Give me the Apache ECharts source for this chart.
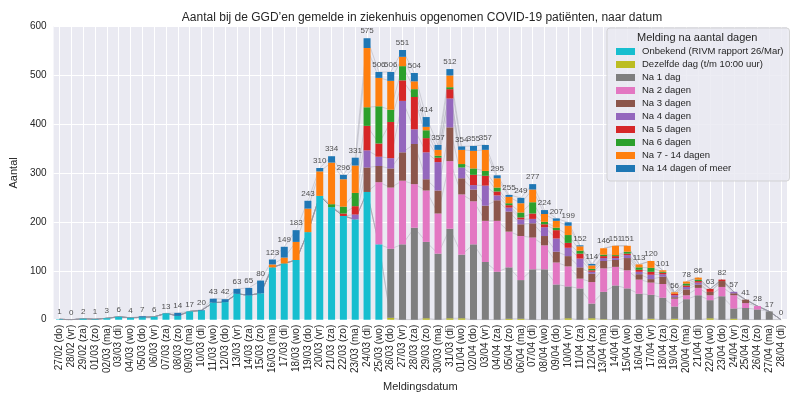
<!DOCTYPE html>
<html>
<head>
<meta charset="utf-8">
<script src="https://cdn.jsdelivr.net/npm/echarts@6/dist/echarts.min.js"></script>
<style>
html,body{margin:0;padding:0;background:#fff;}
#c{width:800px;height:397px;}
</style>
</head>
<body>
<div id="c"></div>
<script>
var categories = ["27/02 (do)","28/02 (vr)","29/02 (za)","01/03 (zo)","02/03 (ma)","03/03 (di)","04/03 (wo)","05/03 (do)","06/03 (vr)","07/03 (za)",
"08/03 (zo)","09/03 (ma)","10/03 (di)","11/03 (wo)","12/03 (do)","13/03 (vr)","14/03 (za)","15/03 (zo)","16/03 (ma)","17/03 (di)",
"18/03 (wo)","19/03 (do)","20/03 (vr)","21/03 (za)","22/03 (zo)","23/03 (ma)","24/03 (di)","25/03 (wo)","26/03 (do)","27/03 (vr)",
"28/03 (za)","29/03 (zo)","30/03 (ma)","31/03 (di)","01/04 (wo)","02/04 (do)","03/04 (vr)","04/04 (za)","05/04 (zo)","06/04 (ma)",
"07/04 (di)","08/04 (wo)","09/04 (do)","10/04 (vr)","11/04 (za)","12/04 (zo)","13/04 (ma)","14/04 (di)","15/04 (wo)","16/04 (do)",
"17/04 (vr)","18/04 (za)","19/04 (zo)","20/04 (ma)","21/04 (di)","22/04 (wo)","23/04 (do)","24/04 (vr)","25/04 (za)","26/04 (zo)",
"27/04 (ma)","28/04 (di)"];

var onbekend = [1,0,2,1,3,6,4,5,6,13, 8,17,19,35,36,53,50,54,107,115, 122,179,253,230,212,205,261,154,0,0, 0,0,0,0,0,0,0,0,0,0, 0,0,0,0,0,0,0,0,0,0, 0,0,0,0,0,0,0,0,0,0, 0,0];
var dezelfdeDag = [0,0,0,0,0,0,0,0,0,0, 0,0,0,0,0,0,0,0,0,0, 0,0,0,0,0,0,0,0,4,0, 0,3,0,3,3,0,0,0,2,2, 0,0,0,3,0,3,1,0,0,0, 2,0,2,0,0,3,0,2,0,0, 0,0];
var na1 = [0,0,0,0,0,0,0,0,0,0, 0,0,0,0,0,0,0,0,0,0, 0,0,0,0,0,0,0,0,141,154, 188,156,135,183,130,154,118,98,105,79, 103,103,72,65,64,30,56,70,64,53, 49,45,25,42,50,37,48,21,24,21, 17,0];
var na2 = [0,0,0,0,0,0,0,0,0,0, 0,0,0,0,0,0,0,0,0,0, 0,0,0,0,0,0,0,127,125,130, 89,105,82,138,123,88,84,104,73,90, 65,49,45,41,20,44,48,38,37,29, 25,28,16,8,15,10,19,27,10,7, 0,0];
var na3 = [0,0,0,0,0,0,0,0,0,0, 0,0,0,0,0,0,0,0,0,0, 0,0,0,0,0,0,50,33,39,58, 82,23,47,69,33,24,31,42,41,24, 29,19,22,21,23,17,15,14,25,11, 7,15,3,12,7,7,12,4,7,0, 0,0];
var na4 = [0,0,0,0,0,0,0,0,0,0, 0,0,0,0,0,0,0,0,0,0, 0,0,0,0,0,10,35,19,21,105, 30,55,58,59,22,9,41,10,8,10, 9,18,27,17,18,4,6,4,6,5, 9,5,4,5,4,0,0,3,0,0, 0,0];
var na5 = [0,0,0,0,0,0,0,0,0,0, 0,0,0,0,0,0,0,0,0,0, 0,0,0,0,5,17,50,27,74,42, 66,29,9,19,0,21,20,8,5,4, 11,6,17,10,10,3,4,4,3,4, 6,3,3,3,3,6,3,0,0,0, 0,0];
var na6 = [0,0,0,0,0,0,0,0,0,0, 0,0,0,0,0,0,0,0,0,0, 0,0,0,6,14,27,38,76,25,29, 16,16,4,4,7,13,10,8,4,10, 23,5,5,16,6,3,3,2,4,5, 8,2,0,4,3,0,0,0,0,0, 0,0];
var na7tot14 = [0,0,0,0,0,0,0,0,0,0, 0,0,0,0,0,0,0,0,6,12, 37,48,50,85,56,56,121,58,59,19, 16,7,12,24,29,36,43,19,13,19, 26,16,14,19,9,7,13,19,12,6, 14,3,3,4,4,0,0,0,0,0, 0,0];
var na14meer = [0,0,0,0,0,0,0,2,0,0, 6,0,1,8,6,10,15,26,10,22, 24,16,7,13,9,16,20,12,18,14, 17,20,10,13,7,10,10,6,4,11, 11,8,5,7,2,3,0,0,0,0, 0,0,0,0,0,0,0,0,0,0, 0,0];
var totals = [1,0,2,1,3,6,4,7,6,13, 14,17,20,43,42,63,65,80,123,149, 183,243,310,334,296,331,575,506,506,551, 504,414,357,512,354,355,357,295,255,249, 277,224,207,199,152,114,146,151,151,113, 120,101,56,78,86,63,82,57,41,28, 17,0];

var seriesNames = ["Onbekend (RIVM rapport 26/Mar)","Dezelfde dag (t/m 10:00 uur)","Na 1 dag","Na 2 dagen","Na 3 dagen","Na 4 dagen","Na 5 dagen","Na 6 dagen","Na 7 - 14 dagen","Na 14 dagen of meer"];
var seriesData = [onbekend, dezelfdeDag, na1, na2, na3, na4, na5, na6, na7tot14, na14meer];
var colors = ["#17becf","#bcbd22","#7f7f7f","#e377c2","#8c564b","#9467bd","#d62728","#2ca02c","#ff7f0e","#1f77b4"];

var FONT = "Liberation Sans";
var TXT = "#262626";

var series = [];
seriesData.forEach(function (d, i) {
  series.push({
    name: seriesNames[i], type: "bar", stack: "bars", data: d,
    barWidth: 7, z: 3,
    itemStyle: { color: colors[i] }
  });
});
seriesData.forEach(function (d, i) {
  series.push({
    name: "line" + i, type: "line", stack: "lines", data: d,
    symbol: "none", silent: true, z: 1,
    lineStyle: { color: "rgba(150,150,160,0.35)", width: 1 },
    itemStyle: { color: "rgba(150,150,160,0.35)" }
  });
});
series.push({
  name: "totaal", type: "scatter", data: totals, symbolSize: 2, z: 5, silent: true,
  itemStyle: { color: "rgba(0,0,0,0)" },
  label: { show: true, position: "top", distance: 2, fontFamily: FONT, fontSize: 8, color: TXT },
  labelLayout: { hideOverlap: false }
});

var chart = echarts.init(document.getElementById("c"), null, { renderer: "canvas" });
chart.setOption({
  animation: false,
  backgroundColor: "#ffffff",
  textStyle: { fontFamily: FONT },
  title: {
    text: "Aantal bij de GGD\u2019en gemelde in ziekenhuis opgenomen COVID-19 pati\u00ebnten, naar datum",
    left: 417, top: 7, textAlign: "center",
    textStyle: { fontFamily: FONT, fontSize: 12, fontWeight: "normal", color: TXT }
  },
  grid: { left: 47, right: 13, top: 26, bottom: 76, backgroundColor: "#eaeaf2", show: true, borderWidth: 0 },
  legend: {
    data: seriesNames, orient: "vertical", left: 607, top: 28,
    padding: [17, 6, 6, 9],
    backgroundColor: "rgba(234,234,242,0.85)", borderColor: "rgba(204,204,204,0.8)", borderWidth: 1, borderRadius: 3,
    itemWidth: 19, itemHeight: 7, itemGap: 0,
    icon: "rect",
    textStyle: { fontFamily: FONT, fontSize: 9.5, color: TXT, lineHeight: 13, padding: [0, 0, 0, 2] }
  },
  graphic: [{
    type: "text", left: 637, top: 32, z: 100,
    style: { text: "Melding na aantal dagen", font: "11px " + FONT, fill: TXT }
  }],
  xAxis: {
    type: "category", data: categories,
    name: "Meldingsdatum", nameLocation: "middle", nameGap: 61,
    nameTextStyle: { fontFamily: FONT, fontSize: 11, color: TXT },
    axisLine: { show: false }, axisTick: { show: false, alignWithLabel: true },
    axisLabel: { rotate: 90, interval: 0, margin: 5, fontFamily: FONT, fontSize: 10, color: TXT },
    splitLine: { show: true, alignWithLabel: true, lineStyle: { color: "#ffffff", width: 1 } }
  },
  yAxis: {
    type: "value", min: 0, max: 600, interval: 100,
    name: "Aantal", nameLocation: "middle", nameGap: 30,
    nameTextStyle: { fontFamily: FONT, fontSize: 11, color: TXT },
    axisLine: { show: false }, axisTick: { show: false },
    axisLabel: { margin: 7, fontFamily: FONT, fontSize: 10, color: TXT },
    splitLine: { show: true, lineStyle: { color: "#ffffff", width: 1 } }
  },
  series: series
});
</script>
</body>
</html>
